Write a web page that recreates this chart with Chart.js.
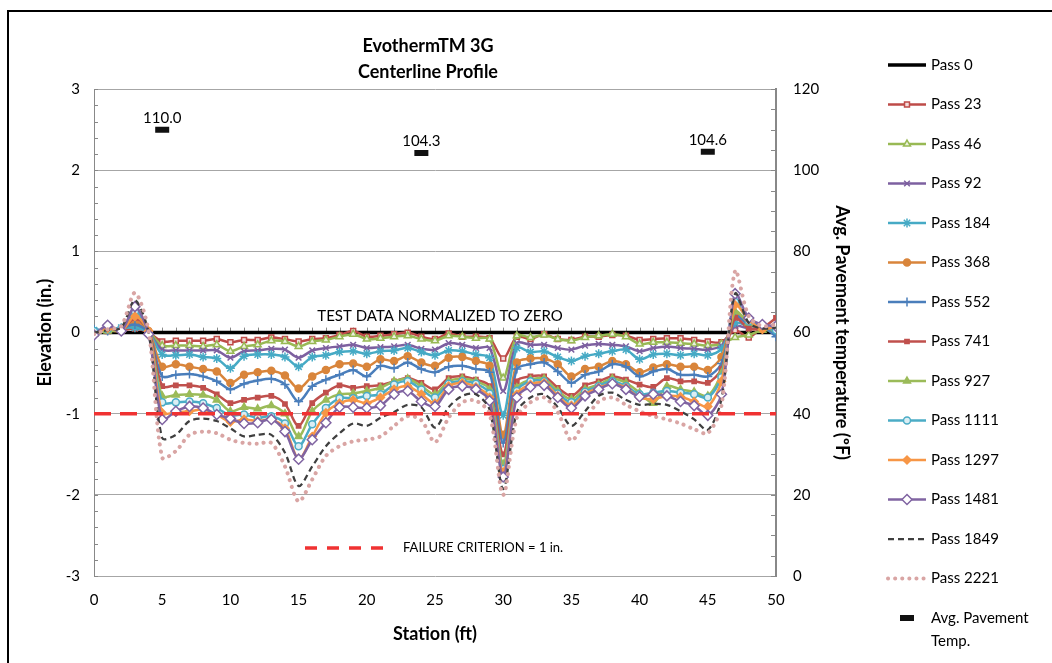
<!DOCTYPE html>
<html>
<head>
<meta charset="utf-8">
<script src="https://cdn.jsdelivr.net/npm/chart.js"></script>
<style>
  html, body { margin: 0; padding: 0; background: #fff; }
  canvas { display: block; }
</style>
</head>
<body>
<canvas id="profile" width="1052" height="663"></canvas>
<script>
// station along the lane (ft)
const stations = [0,1,2,3,4,5,6,7,8,9,10,11,12,13,14,15,16,17,18,19,20,21,22,23,24,25,
  26,27,28,29,30,31,32,33,34,35,36,37,38,39,40,41,42,43,44,45,46,47,48,49,50];

// elevation (in.) for each pass
const pass0 = [0,0,0,0,0,0,0,0,0,0,0,0,0,0,0,0,0,0,0,0,0,0,0,0,0,0,
  0,0,0,0,0,0,0,0,0,0,0,0,0,0,0,0,0,0,0,0,0,0,0,0,0];
const pass23 = [0.00, 0.02, 0.03, 0.05, 0.00, -0.11, -0.10, -0.10, -0.10, -0.08, -0.12, -0.09, -0.09,
  -0.06, -0.08, -0.11, -0.08, -0.07, -0.03, 0.02, -0.05, -0.04, -0.02, 0.00, -0.05, -0.08,
  -0.01, -0.05, -0.05, -0.07, -0.32, -0.05, -0.08, -0.02, -0.08, -0.09, -0.05, -0.05,
  -0.03, -0.04, -0.09, -0.08, -0.07, -0.07, -0.09, -0.11, -0.12, 0.03, -0.06, 0.06, 0.04];
const pass46 = [-0.02, 0.03, 0.04, 0.08, 0.01, -0.16, -0.16, -0.16, -0.17, -0.15, -0.23, -0.17, -0.15,
  -0.10, -0.11, -0.17, -0.11, -0.09, -0.05, -0.02, -0.08, -0.07, -0.05, -0.04, -0.08, -0.10,
  -0.04, -0.05, -0.07, -0.08, -0.56, -0.04, -0.06, -0.03, -0.08, -0.10, -0.06, -0.04,
  -0.02, -0.05, -0.14, -0.12, -0.12, -0.13, -0.14, -0.16, -0.14, -0.06, -0.03, 0.03, 0.02];
const pass92 = [0.01, 0.04, 0.03, 0.12, 0.00, -0.21, -0.22, -0.22, -0.22, -0.22, -0.31, -0.23, -0.22,
  -0.20, -0.21, -0.31, -0.22, -0.19, -0.17, -0.15, -0.19, -0.18, -0.17, -0.15, -0.20, -0.21,
  -0.13, -0.15, -0.19, -0.19, -0.72, -0.13, -0.15, -0.15, -0.19, -0.21, -0.16, -0.14,
  -0.15, -0.17, -0.23, -0.19, -0.17, -0.19, -0.20, -0.21, -0.16, 0.08, 0.05, 0.06, 0.04];
const pass184 = [0.03, 0.04, 0.06, 0.06, 0.00, -0.27, -0.28, -0.27, -0.30, -0.32, -0.44, -0.29, -0.27,
  -0.27, -0.30, -0.42, -0.30, -0.28, -0.24, -0.23, -0.26, -0.23, -0.22, -0.19, -0.24, -0.28,
  -0.22, -0.23, -0.27, -0.31, -1.02, -0.19, -0.24, -0.23, -0.30, -0.35, -0.29, -0.26,
  -0.23, -0.21, -0.33, -0.27, -0.26, -0.28, -0.26, -0.28, -0.20, 0.12, 0.08, 0.07, 0.03];
const pass368 = [-0.02, 0.05, 0.04, 0.14, 0.02, -0.42, -0.39, -0.42, -0.45, -0.48, -0.62, -0.52, -0.49,
  -0.47, -0.53, -0.69, -0.54, -0.46, -0.39, -0.38, -0.42, -0.33, -0.35, -0.29, -0.37, -0.41,
  -0.31, -0.30, -0.35, -0.41, -1.26, -0.37, -0.32, -0.32, -0.39, -0.54, -0.45, -0.42,
  -0.35, -0.39, -0.49, -0.43, -0.39, -0.42, -0.42, -0.46, -0.30, 0.22, 0.10, 0.05, 0.06];
const pass552 = [0.04, 0.02, 0.05, 0.10, 0.00, -0.54, -0.52, -0.51, -0.54, -0.60, -0.70, -0.63, -0.59,
  -0.57, -0.64, -0.85, -0.66, -0.58, -0.52, -0.46, -0.54, -0.41, -0.44, -0.37, -0.45, -0.49,
  -0.42, -0.41, -0.45, -0.49, -1.36, -0.45, -0.39, -0.37, -0.48, -0.62, -0.52, -0.48,
  -0.39, -0.42, -0.54, -0.48, -0.45, -0.52, -0.52, -0.54, -0.38, 0.20, 0.10, 0.08, -0.05];
const pass741 = [0.00, 0.03, 0.02, 0.18, 0.01, -0.66, -0.65, -0.65, -0.68, -0.76, -0.87, -0.83, -0.80,
  -0.78, -0.88, -1.15, -0.87, -0.74, -0.65, -0.68, -0.66, -0.65, -0.60, -0.56, -0.62, -0.70,
  -0.56, -0.54, -0.58, -0.66, -1.50, -0.60, -0.54, -0.54, -0.68, -0.78, -0.65, -0.60,
  -0.54, -0.58, -0.64, -0.67, -0.56, -0.60, -0.60, -0.62, -0.45, 0.18, 0.05, 0.06, 0.18];
const pass927 = [-0.01, 0.02, 0.03, 0.22, 0.00, -0.78, -0.77, -0.76, -0.77, -0.83, -0.97, -0.92, -0.94,
  -0.90, -1.00, -1.28, -0.97, -0.83, -0.76, -0.75, -0.72, -0.68, -0.60, -0.57, -0.66, -0.76,
  -0.60, -0.57, -0.60, -0.70, -1.62, -0.68, -0.58, -0.57, -0.72, -0.82, -0.70, -0.64,
  -0.57, -0.62, -0.74, -0.87, -0.66, -0.70, -0.73, -0.78, -0.50, 0.26, 0.12, 0.06, 0.04];
const pass1111 = [0.02, 0.04, 0.05, 0.26, 0.00, -0.86, -0.86, -0.85, -0.87, -0.93, -1.02, -1.01, -1.05,
  -1.03, -1.12, -1.40, -1.13, -0.93, -0.81, -0.81, -0.78, -0.76, -0.64, -0.60, -0.70, -0.80,
  -0.63, -0.60, -0.63, -0.75, -1.68, -0.72, -0.60, -0.60, -0.75, -0.86, -0.73, -0.66,
  -0.60, -0.66, -0.76, -0.74, -0.72, -0.74, -0.76, -0.80, -0.55, 0.38, 0.14, 0.08, 0.03];
const pass1297 = [-0.02, 0.05, 0.02, 0.20, 0.02, -0.99, -0.98, -0.97, -0.95, -1.01, -1.10, -1.07, -1.09,
  -1.07, -1.18, -1.56, -1.28, -0.99, -0.87, -0.83, -0.87, -0.80, -0.70, -0.66, -0.76, -0.87,
  -0.66, -0.62, -0.67, -0.80, -1.72, -0.76, -0.64, -0.62, -0.78, -0.90, -0.76, -0.68,
  -0.63, -0.68, -0.80, -0.82, -0.78, -0.79, -0.85, -0.91, -0.60, 0.34, 0.16, 0.04, 0.08];
const pass1481 = [-0.03, 0.09, 0.02, 0.32, -0.02, -1.07, -0.97, -0.91, -0.93, -1.01, -1.06, -1.12, -1.11,
  -1.07, -1.22, -1.56, -1.32, -1.11, -0.92, -0.92, -0.93, -0.90, -0.76, -0.72, -0.85, -0.91,
  -0.70, -0.66, -0.70, -0.84, -1.78, -0.80, -0.67, -0.65, -0.80, -0.93, -0.78, -0.70,
  -0.63, -0.70, -0.79, -0.76, -0.78, -0.85, -0.90, -1.02, -0.76, 0.48, 0.18, 0.10, 0.08];
const pass1849 = [0.00, 0.03, 0.06, 0.40, 0.00, -1.30, -1.26, -1.09, -1.06, -1.09, -1.18, -1.28, -1.26,
  -1.26, -1.48, -1.89, -1.65, -1.40, -1.24, -1.12, -1.15, -1.05, -0.98, -0.89, -0.92, -1.17,
  -0.92, -0.78, -0.76, -0.95, -1.93, -0.98, -0.80, -0.76, -0.92, -1.15, -0.97, -0.78,
  -0.74, -0.83, -0.89, -0.88, -0.89, -0.97, -1.07, -1.20, -0.82, 0.48, 0.12, 0.05, 0.06];
const pass2221 = [-0.02, 0.04, 0.08, 0.49, 0.02, -1.54, -1.46, -1.26, -1.22, -1.24, -1.32, -1.36, -1.37,
  -1.36, -1.65, -2.08, -1.81, -1.52, -1.40, -1.34, -1.32, -1.28, -1.15, -1.03, -1.08, -1.35,
  -1.05, -0.86, -0.84, -1.00, -2.00, -1.05, -0.86, -0.80, -0.98, -1.33, -1.08, -0.85,
  -0.80, -0.89, -0.97, -1.03, -1.07, -1.12, -1.19, -1.24, -0.90, 0.76, 0.20, 0.08, 0.10];

// failure criterion line
const failStations = [0, 50];
const failValues = [-1, -1];

// avg. pavement temperature (F), right axis
const tempStations = [5, 24, 45];
const tempValues = [110.0, 104.3, 104.6];

Chart.defaults.font.family = 'Lato, "Noto Sans", sans-serif';
Chart.defaults.color = '#000';

function series(label, values, color, opts) {
  return Object.assign({
    label: label,
    data: stations.map((s, i) => ({x: s, y: values[i]})),
    borderColor: color,
    backgroundColor: color,
    borderWidth: 2.5,
    pointRadius: 0,
    pointStyle: 'circle',
    pointBorderColor: color,
    pointBackgroundColor: color,
    pointBorderWidth: 1.5,
    tension: 0.3,
    yAxisID: 'y'
  }, opts || {});
}

const datasets = [
  series('Pass 0', pass0, '#000000', {borderWidth: 3.5}),
  series('Pass 23', pass23, '#BE4B48', {pointStyle: 'rect', pointRadius: 3.5, pointBackgroundColor: '#F2DCDB'}),
  series('Pass 46', pass46, '#98B954', {pointStyle: 'triangle', pointRadius: 4, pointBackgroundColor: '#EBF1DE'}),
  series('Pass 92', pass92, '#7D60A0', {pointStyle: 'crossRot', pointRadius: 4}),
  series('Pass 184', pass184, '#46AAC5', {pointStyle: 'star', pointRadius: 4.5}),
  series('Pass 368', pass368, '#D9853B', {pointStyle: 'circle', pointRadius: 3.5}),
  series('Pass 552', pass552, '#4A7EBB', {pointStyle: 'cross', pointRadius: 4.5}),
  series('Pass 741', pass741, '#C0504D', {pointStyle: 'rect', pointRadius: 3}),
  series('Pass 927', pass927, '#9BBB59', {pointStyle: 'triangle', pointRadius: 4}),
  series('Pass 1111', pass1111, '#4BACC6', {pointStyle: 'circle', pointRadius: 3.5, pointBackgroundColor: '#DBEEF4'}),
  series('Pass 1297', pass1297, '#F79646', {pointStyle: 'rectRot', pointRadius: 4}),
  series('Pass 1481', pass1481, '#8064A2', {pointStyle: 'rectRot', pointRadius: 5, pointBackgroundColor: '#FFFFFF'}),
  series('Pass 1849', pass1849, '#3F3F3F', {borderWidth: 2.25, borderDash: [6, 4]}),
  series('Pass 2221', pass2221, '#D9A5A4', {borderWidth: 4, borderDash: [0.1, 7], borderCapStyle: 'round'}),
  {
    label: 'FAILURE CRITERION = 1 in.',
    data: failStations.map((s, i) => ({x: s, y: failValues[i]})),
    borderColor: '#F03232',
    borderWidth: 3.5,
    borderDash: [17, 9],
    pointRadius: 0,
    tension: 0,
    yAxisID: 'y'
  },
  {
    label: 'Avg. Pavement Temp.',
    data: tempStations.map((s, i) => ({x: s, y: tempValues[i]})),
    showLine: false,
    pointStyle: 'line',
    pointRadius: 7,
    pointBorderWidth: 6,
    pointBorderColor: '#111',
    pointBackgroundColor: '#111',
    borderColor: '#111',
    yAxisID: 'y2'
  }
];
// later series are drawn on top, as in the original
datasets.forEach((d, i) => { d.order = datasets.length - i; });

const FAIL = datasets.length - 2;
const TEMP = datasets.length - 1;

function marker(ctx, ds, x, y) {
  if (!ds.pointRadius) return;
  ctx.save();
  ctx.setLineDash([]);
  ctx.fillStyle = ds.pointBackgroundColor;
  ctx.strokeStyle = ds.pointBorderColor;
  ctx.lineWidth = ds.pointBorderWidth;
  Chart.helpers.drawPoint(ctx, {pointStyle: ds.pointStyle, radius: ds.pointRadius, rotation: 0, borderWidth: ds.pointBorderWidth}, x, y);
  ctx.restore();
}

const extras = {
  id: 'extras',
  beforeDraw(chart) {
    const ctx = chart.ctx;
    ctx.save();
    ctx.fillStyle = '#fff';
    ctx.fillRect(0, 0, chart.width, chart.height);
    ctx.strokeStyle = '#000';
    ctx.lineWidth = 2;
    ctx.strokeRect(8, 11, chart.width + 40, chart.height + 40);
    ctx.restore();
  },
  beforeDatasetsDraw(chart) {
    const {ctx, scales: {x, y, y2}} = chart;
    ctx.save();
    ctx.strokeStyle = '#888';
    ctx.lineWidth = 1;
    ctx.beginPath();
    // minor ticks, left axis
    for (let k = -15; k <= 15; k++) {
      const py = Math.round(y.getPixelForValue(k / 5)) + 0.5;
      ctx.moveTo(x.left, py); ctx.lineTo(x.left + 4, py);
    }
    // minor ticks, right axis
    for (let t = 0; t <= 120; t += 5) {
      const py = Math.round(y2.getPixelForValue(t)) + 0.5;
      ctx.moveTo(x.right - 5, py); ctx.lineTo(x.right, py);
    }
    // horizontal axis crosses at zero
    const y0 = y.getPixelForValue(0);
    stations.forEach(s => {
      const px = Math.round(x.getPixelForValue(s)) + 0.5;
      ctx.moveTo(px, y0); ctx.lineTo(px, y0 - 5);
    });
    ctx.stroke();
    ctx.restore();
  },
  afterDatasetsDraw(chart) {
    const {ctx, chartArea, scales: {x, y}} = chart;
    ctx.save();
    ctx.fillStyle = '#000';
    ctx.font = '15px Lato, "Noto Sans", sans-serif';
    ctx.textAlign = 'center';
    ctx.textBaseline = 'middle';
    ctx.fillText('TEST DATA NORMALIZED TO ZERO', (chartArea.left + chartArea.right) / 2 + 5, y.getPixelForValue(0) - 16);
    // temperature values above their markers
    chart.getDatasetMeta(TEMP).data.forEach((pt, i) => {
      ctx.fillText(tempValues[i].toFixed(1), pt.x, pt.y - 12);
    });
    // failure criterion key inside the plot
    const fd = datasets[FAIL];
    const ky = chartArea.bottom - 28;
    const kx = chartArea.left + 211;
    ctx.strokeStyle = fd.borderColor;
    ctx.lineWidth = fd.borderWidth;
    ctx.setLineDash([12, 10]);
    ctx.beginPath();
    ctx.moveTo(kx, ky); ctx.lineTo(kx + 80, ky);
    ctx.stroke();
    ctx.setLineDash([]);
    ctx.font = '13px Lato, "Noto Sans", sans-serif';
    ctx.textAlign = 'left';
    ctx.fillText(fd.label, kx + 98, ky);
    ctx.restore();
  },
  afterDraw(chart) {
    const ctx = chart.ctx;
    const x0 = 888, x1 = 926, tx = 931, top = 65, step = 39.5;
    ctx.save();
    ctx.font = '15px Lato, "Noto Sans", sans-serif';
    ctx.textBaseline = 'middle';
    ctx.textAlign = 'left';
    for (let i = 0; i < FAIL; i++) {
      const ds = datasets[i];
      const ly = top + i * step;
      ctx.strokeStyle = ds.borderColor;
      ctx.lineWidth = ds.borderWidth;
      ctx.lineCap = ds.borderCapStyle || 'butt';
      ctx.setLineDash(ds.borderDash || []);
      ctx.beginPath();
      ctx.moveTo(x0, ly); ctx.lineTo(x1, ly);
      ctx.stroke();
      ctx.lineCap = 'butt';
      ctx.setLineDash([]);
      marker(ctx, ds, (x0 + x1) / 2, ly);
      ctx.fillStyle = '#000';
      ctx.fillText(ds.label, tx, ly);
    }
    const ay = top + FAIL * step;
    marker(ctx, datasets[TEMP], (x0 + x1) / 2, ay);
    ctx.fillStyle = '#000';
    ctx.fillText('Avg. Pavement', tx, ay);
    ctx.fillText('Temp.', tx, ay + 23);
    ctx.restore();
  }
};

new Chart(document.getElementById('profile'), {
  type: 'line',
  data: { datasets: datasets },
  plugins: [extras],
  options: {
    responsive: false,
    animation: false,
    devicePixelRatio: 1,
    events: [],
    layout: { padding: { left: 0, top: 0, right: 196, bottom: 0 } },
    plugins: {
      legend: { display: false },
      tooltip: { enabled: false },
      title: {
        display: true,
        text: ['EvothermTM 3G', 'Centerline Profile'],
        font: { size: 18, weight: 'bold', lineHeight: 1.45 },
        color: '#000',
        padding: { top: 33, bottom: 4 }
      }
    },
    scales: {
      x: {
        type: 'linear',
        min: 0,
        max: 50,
        ticks: { stepSize: 5, padding: 15, font: { size: 15 } },
        grid: { display: false, drawTicks: false },
        border: { display: false },
        title: { display: true, text: 'Station (ft)', font: { size: 18, weight: 'bold' }, padding: { top: 0, bottom: 18 } },
        afterFit: s => { s.height = 87; }
      },
      y: {
        position: 'left',
        min: -3,
        max: 3,
        ticks: { stepSize: 1, padding: 14, font: { size: 15 } },
        grid: { color: '#A6A6A6', lineWidth: 1, drawTicks: false },
        border: { display: true, color: '#888', width: 1 },
        title: { display: true, text: 'Elevation (in.)', font: { size: 18, weight: 'bold' }, padding: { top: 34, bottom: 0 } },
        afterFit: s => { s.width = 94; }
      },
      y2: {
        position: 'right',
        min: 0,
        max: 120,
        ticks: { stepSize: 20, padding: 17, font: { size: 15 } },
        grid: { display: false, drawTicks: false },
        border: { display: true, color: '#888', width: 2 },
        title: { display: true, text: 'Avg. Pavement temperature (ºF)', font: { size: 18, weight: 'bold' }, padding: { top: 3, bottom: 0 } },
        afterFit: s => { s.width = 80; }
      }
    }
  }
});
</script>
</body>
</html>
